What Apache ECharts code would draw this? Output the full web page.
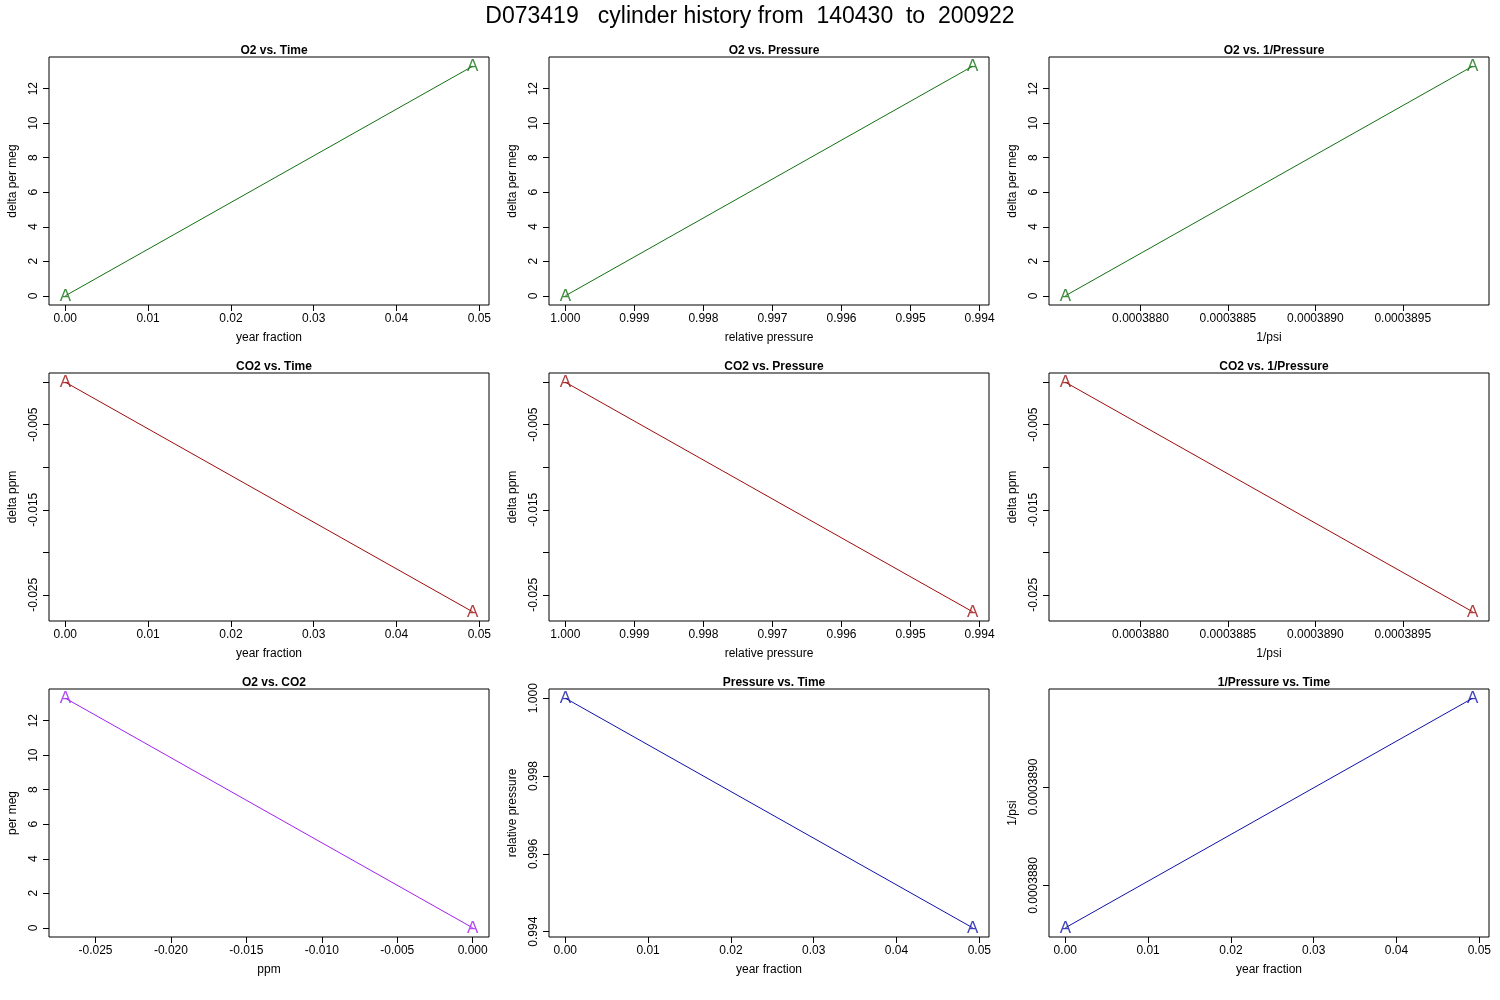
<!DOCTYPE html>
<html>
<head>
<meta charset="utf-8">
<script src="https://cdn.jsdelivr.net/npm/echarts@6/dist/echarts.min.js"></script>
<style>
  *{margin:0;padding:0;}
  body{background:#fff;}
</style>
</head>
<body>
<div id="main" style="width:1500px;height:1000px;"></div>
<script type="text/javascript">
// cylinder history values (two runs)
var yearFrac = [0, 0.0492];
var relPressure = [1.0, 0.99410];
var invPsi = [0.00038757, 0.00038990];
var o2 = [0, 13.3];
var co2 = [0, -0.0270];

var yearTicks = [0, 0.01, 0.02, 0.03, 0.04, 0.05];
var presTicks = [1.000, 0.999, 0.998, 0.997, 0.996, 0.995, 0.994];
var invTicks = [0.0003880, 0.0003885, 0.0003890, 0.0003895];
var invTicksY = [0.0003880, 0.0003890];
var o2Ticks = [0, 2, 4, 6, 8, 10, 12];
var co2Ticks = [0, -0.005, -0.010, -0.015, -0.020, -0.025];
var co2Labels = [-0.005, -0.015, -0.025];
var co2xTicks = [-0.025, -0.020, -0.015, -0.010, -0.005, 0.000];
var presTicksY = [0.994, 0.996, 0.998, 1.000];

var green = '#137013', red = '#9c0c0c', purple = '#a020f0', blue = '#1010a8';

var panels = [
  {t:'O2 vs. Time', x:yearFrac, y:o2, xn:'year fraction', yn:'delta per meg', xt:yearTicks, xd:2, yt:o2Ticks, yd:0, c:green},
  {t:'O2 vs. Pressure', x:relPressure, y:o2, xn:'relative pressure', yn:'delta per meg', xt:presTicks, xd:3, yt:o2Ticks, yd:0, c:green, inv:true},
  {t:'O2 vs. 1/Pressure', x:invPsi, y:o2, xn:'1/psi', yn:'delta per meg', xt:invTicks, xd:7, yt:o2Ticks, yd:0, c:green},
  {t:'CO2 vs. Time', x:yearFrac, y:co2, xn:'year fraction', yn:'delta ppm', xt:yearTicks, xd:2, yt:co2Ticks, yl:co2Labels, yd:3, c:red},
  {t:'CO2 vs. Pressure', x:relPressure, y:co2, xn:'relative pressure', yn:'delta ppm', xt:presTicks, xd:3, yt:co2Ticks, yl:co2Labels, yd:3, c:red, inv:true},
  {t:'CO2 vs. 1/Pressure', x:invPsi, y:co2, xn:'1/psi', yn:'delta ppm', xt:invTicks, xd:7, yt:co2Ticks, yl:co2Labels, yd:3, c:red},
  {t:'O2 vs. CO2', x:co2, y:o2, xn:'ppm', yn:'per meg', xt:co2xTicks, xd:3, yt:o2Ticks, yd:0, c:purple},
  {t:'Pressure vs. Time', x:yearFrac, y:relPressure, xn:'year fraction', yn:'relative pressure', xt:yearTicks, xd:2, yt:presTicksY, yd:3, c:blue},
  {t:'1/Pressure vs. Time', x:yearFrac, y:invPsi, xn:'year fraction', yn:'1/psi', xt:yearTicks, xd:2, yt:invTicksY, yd:7, c:blue}
];

var lefts = [49, 549, 1049], tops = [57, 373, 689];
var font = 'Liberation Sans, Arial, sans-serif';

function ext(arr, lo) {
  var a = Math.min.apply(null, arr), b = Math.max.apply(null, arr), r = b - a;
  return lo ? a - 0.04 * r : b + 0.04 * r;
}

var option = {
  animation: false,
  title: [{text: 'D073419   cylinder history from  140430  to  200922', left: 'center', top: 0,
    textStyle: {fontFamily: font, fontSize: 23, fontWeight: 'normal', color: '#000'}}],
  grid: [], xAxis: [], yAxis: [], series: []
};

panels.forEach(function (p, i) {
  var L = lefts[i % 3], T = tops[Math.floor(i / 3)];
  option.title.push({text: p.t, left: L + 220, top: T - 17, textAlign: 'center',
    textStyle: {fontFamily: font, fontSize: 12, fontWeight: 'bold', color: '#000'}});
  option.grid.push({left: L, top: T, width: 440, height: 248, show: true,
    borderColor: '#000', borderWidth: 1, backgroundColor: 'transparent'});
  option.xAxis.push({
    type: 'value', gridIndex: i, inverse: !!p.inv,
    min: ext(p.x, true), max: ext(p.x, false),
    name: p.xn, nameLocation: 'middle', nameGap: 27,
    nameTextStyle: {fontFamily: font, fontSize: 12, color: '#000'},
    axisLine: {show: false, onZero: false}, splitLine: {show: false},
    axisTick: {show: true, inside: false, length: 6, customValues: p.xt, lineStyle: {color: '#000'}},
    axisLabel: {fontFamily: font, fontSize: 12, color: '#000', margin: 8, customValues: p.xt,
      formatter: function (v) { return v.toFixed(p.xd); }}
  });
  var labs = p.yl || p.yt;
  option.yAxis.push({
    type: 'value', gridIndex: i,
    min: ext(p.y, true), max: ext(p.y, false),
    name: p.yn, nameLocation: 'middle', nameGap: 30, nameRotate: 90,
    nameTextStyle: {fontFamily: font, fontSize: 12, color: '#000'},
    axisLine: {show: false, onZero: false}, splitLine: {show: false},
    axisTick: {show: true, inside: false, length: 6, customValues: p.yt, lineStyle: {color: '#000'}},
    axisLabel: {fontFamily: font, fontSize: 12, color: '#000', margin: 9, rotate: 90, customValues: labs,
      formatter: function (v) { return v.toFixed(p.yd); }}
  });
  var pts = p.x.map(function (v, k) { return [v, p.y[k]]; });
  option.series.push({type: 'line', xAxisIndex: i, yAxisIndex: i, data: pts, symbol: 'none',
    lineStyle: {color: p.c, width: 1}});
  option.series.push({type: 'scatter', xAxisIndex: i, yAxisIndex: i, data: pts, symbolSize: 1,
    itemStyle: {color: 'transparent'},
    label: {show: true, position: 'inside', formatter: 'A', fontFamily: font, fontSize: 17, color: p.c}});
});

var myChart = echarts.init(document.getElementById('main'));
myChart.setOption(option);
</script>
</body>
</html>
